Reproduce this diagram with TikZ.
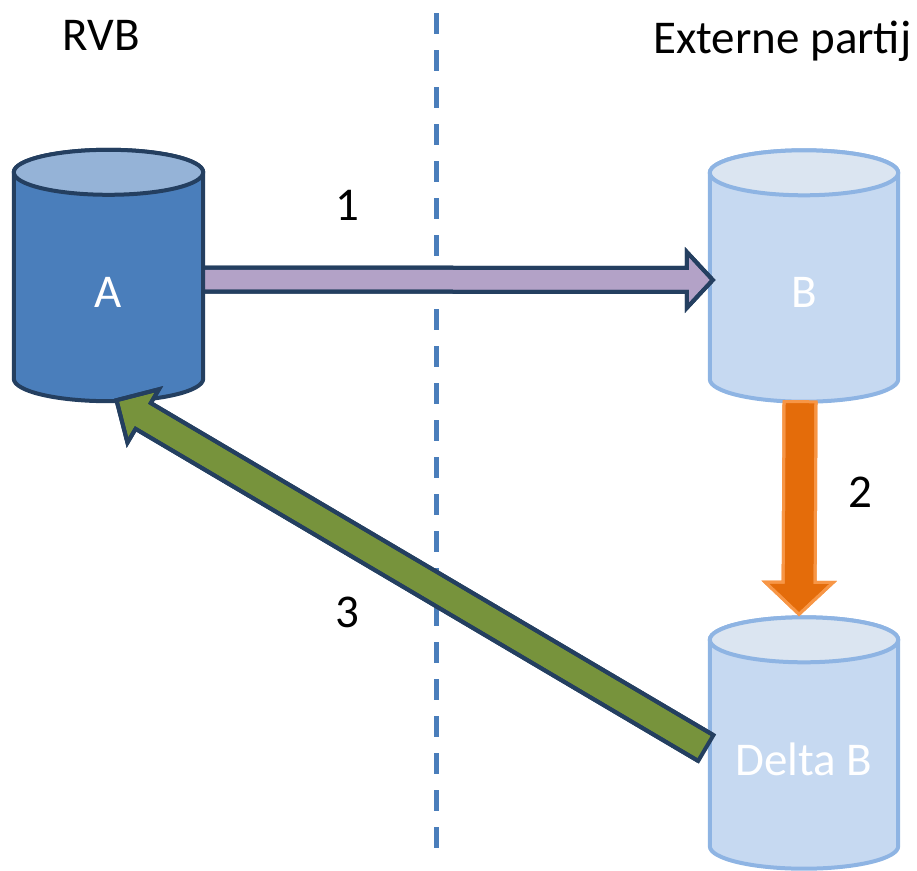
\documentclass[tikz,border=0pt]{standalone}
\usepackage{fontspec}
\setmainfont{Carlito}
\definecolor{dbnavy}{RGB}{36,63,96}
\definecolor{dbblue}{RGB}{74,126,187}
\definecolor{dbbluetop}{RGB}{149,179,215}
\definecolor{dbpale}{RGB}{198,217,241}
\definecolor{dbpaletop}{RGB}{219,229,241}
\definecolor{dbpaleline}{RGB}{142,180,227}
\definecolor{arrpurple}{RGB}{179,162,199}
\definecolor{arrorange}{RGB}{228,108,10}
\definecolor{arrorangeline}{RGB}{247,150,70}
\definecolor{arrgreen}{RGB}{119,147,60}
\usetikzlibrary{calc, backgrounds}
\tikzset{
  drum/.style={rectangle, inner sep=0pt, minimum width=#1, minimum height=251pt},
  dbtext/.style={text=white, font=\fontsize{47}{56}\selectfont, yshift=-16.5pt},
  big/.style={font=\fontsize{47}{56}\selectfont, inner sep=0pt},
}
% database drum behind node #1: #2 body fill, #3 end fill, #4 line colour
\newcommand{\drum}[4]{%
  \begin{scope}[on background layer]
  \draw[fill=#2, draw=#4, line width=4pt] let \p1=(#1.north west), \p2=(#1.south east),
      \n1={(\x2-\x1)/2} in
    (\x1,\y1-22.5pt) -- (\x1,\y2+22.5pt)
    arc[start angle=180, end angle=360, x radius=\n1, y radius=22.5pt]
    -- (\x2,\y1-22.5pt)
    arc[start angle=0, end angle=180, x radius=\n1, y radius=22.5pt] -- cycle;
  \draw[fill=#3, draw=#4, line width=4pt] let \p1=(#1.north), \p2=(#1.east) in
    (\x1,\y1-22.5pt) ellipse[x radius=\x2-\x1, y radius=22.5pt];
  \end{scope}}
% block arrow: #1 style, #2 tail, #3 tip, #4 half shaft, #5 half head, #6 head length
\newcommand{\bigarrow}[6]{%
  \coordinate (hb) at ($(#3)!#6!(#2)$);
  \fill[#1] ($(#2)!#4!90:(#3)$) -- ($(hb)!#4!90:(#3)$) -- ($(hb)!#5!90:(#3)$)
    -- (#3) -- ($(hb)!#5!-90:(#3)$) -- ($(hb)!#4!-90:(#3)$)
    -- ($(#2)!#4!-90:(#3)$) -- cycle;
  \draw[#1, fill=none, line join=miter] ($(#2)!#4!90:(#3)$) -- ($(hb)!#4!90:(#3)$)
    -- ($(hb)!#5!90:(#3)$) -- (#3) -- ($(hb)!#5!-90:(#3)$)
    -- ($(hb)!#4!-90:(#3)$) -- ($(#2)!#4!-90:(#3)$);}

\begin{document}
\begin{tikzpicture}[x=1pt, y=-1pt,
      arr1/.style={fill=arrpurple, draw=dbnavy, line width=4pt},
      arr2/.style={fill=arrorange, draw=arrorangeline, line width=3pt},
      arr3/.style={fill=arrgreen, draw=dbnavy, line width=4pt},
      split/.style={draw=dbblue, line width=5pt, dash pattern=on 21pt off 16pt}]
  \useasboundingbox (0,0) rectangle (917,870);

  % ── divider ─────────────────────────────────────────────
  \coordinate (top) at (436,13); \coordinate (bot) at (436,858);
  \begin{scope}[on background layer]
    \draw[split] (top) -- (bot);
  \end{scope}

  % ── headings ────────────────────────────────────────────
  \node[big, anchor=base] (rvb) at (101,50) {RVB};
  \node[big, anchor=base west] (ext) at (653,53) {Externe partij};

  % ── databases ───────────────────────────────────────────
  \node[drum=189pt, label={[dbtext]center:A}] (A) at (108.5,275.5) {};
  \node[drum=188pt, label={[dbtext]center:B}] (B) at (804,276) {};
  \node[drum=188pt, label={[dbtext]center:Delta B}] (DB) at (804,743) {};
  \drum{A}{dbblue}{dbbluetop}{dbnavy}
  \drum{B}{dbpale}{dbpaletop}{dbpaleline}
  \drum{DB}{dbpale}{dbpaletop}{dbpaleline}

  % ── arrows ──────────────────────────────────────────────
  \coordinate (s1) at ([yshift=-4pt]A.east);
  \coordinate (t1) at ([shift={(3,4)}]B.west);
  \bigarrow{arr1}{s1}{t1}{12pt}{28pt}{26pt}
  \coordinate (s2) at ([xshift=-4pt]B.south);
  \coordinate (t2) at ([shift={(-5,-3)}]DB.north);
  \bigarrow{arr2}{s2}{t2}{16pt}{34pt}{32pt}
  \coordinate (s3) at ([shift={(-4,5)}]DB.west);
  \coordinate (t3) at ([shift={(8,-1)}]A.south);
  \bigarrow{arr3}{s3}{t3}{15pt}{31pt}{31pt}

  % ── step numbers ────────────────────────────────────────
  \node[big, anchor=base] (n1) at (347,220) {1};
  \node[big, anchor=base] (n2) at (860,507) {2};
  \node[big, anchor=base] (n3) at (347,627) {3};
\end{tikzpicture}
\end{document}
